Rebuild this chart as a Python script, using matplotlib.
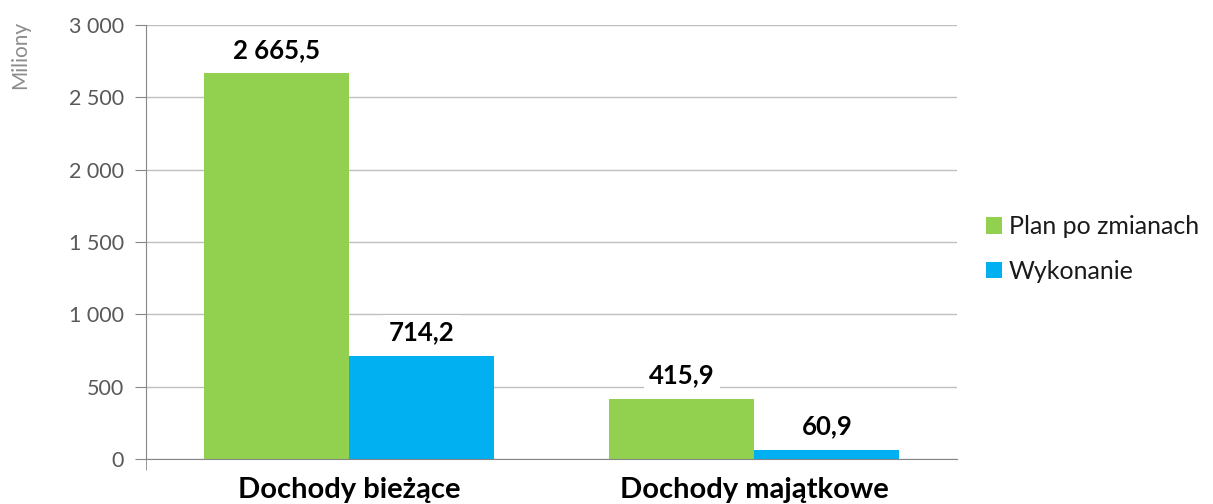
import matplotlib.pyplot as plt
import numpy as np

categories = ['Dochody bieżące', 'Dochody majątkowe']
plan = [2665.5, 415.9]
wykonanie = [714.2, 60.9]
labels_plan = ['2 665,5', '415,9']
labels_wyk = ['714,2', '60,9']
series_names = ['Plan po zmianach', 'Wykonanie']
yticks = [0, 500, 1000, 1500, 2000, 2500, 3000]
ytick_labels = ['0', '500', '1 000', '1 500', '2 000', '2 500', '3 000']

plt.rcParams['font.family'] = ['Lato', 'DejaVu Sans']

fig = plt.figure(figsize=(12.13, 5.04), dpi=100)
ax = fig.add_axes([146/1213, 1 - 459/504, (957-146)/1213, (459-25)/504])

x = np.arange(len(categories))
w = 0.358
green = '#92D050'
blue = '#00B0F0'
ax.bar(x - w/2, plan, w, color=green, label=series_names[0], zorder=2)
ax.bar(x + w/2, wykonanie, w, color=blue, label=series_names[1], zorder=2)

box = dict(boxstyle='square,pad=0.2', fc='white', ec='none')
for xi, v, t in zip(x - w/2, plan, labels_plan):
    ax.annotate(t, (xi, v), xytext=(0, 17), textcoords='offset points',
                ha='center', va='center', fontsize=18.5, fontweight='bold', bbox=box, zorder=3)
for xi, v, t in zip(x + w/2, wykonanie, labels_wyk):
    ax.annotate(t, (xi, v), xytext=(0, 17), textcoords='offset points',
                ha='center', va='center', fontsize=18.5, fontweight='bold', bbox=box, zorder=3)

ax.set_xlim(-0.5, 1.5)
ax.set_ylim(0, 3000)
ax.set_yticks(yticks)
ax.set_yticklabels(ytick_labels, fontsize=15.5, color='#595959')
ax.yaxis.grid(True, color='#BFBFBF', linewidth=1, zorder=0)
ax.set_axisbelow(True)
ax.tick_params(axis='y', length=8, color='#868686', pad=8)
ax.set_xticks(x)
ax.set_xticklabels(categories, fontsize=21, fontweight='bold')
ax.tick_params(axis='x', length=0, pad=13)
ax.set_xticks([-0.5], minor=True)
ax.tick_params(axis='x', which='minor', length=8, color='#868686')
for s in ['top', 'right']:
    ax.spines[s].set_visible(False)
for s in ['left', 'bottom']:
    ax.spines[s].set_color('#868686')

fig.text(20/1213, 1 - 55/504, 'Miliony', rotation=90, ha='center', va='center',
         fontsize=15, color='#8c8c8c')

ax.legend(loc='center left', bbox_to_anchor=(986/1213, 1 - 249/504), bbox_transform=fig.transFigure,
          frameon=False, fontsize=18, handlelength=0.62, handleheight=0.62,
          handletextpad=0.3, labelspacing=0.85, labelcolor='#1a1a1a',
          borderpad=0, borderaxespad=0)

fig.savefig('out.png', dpi=100)
